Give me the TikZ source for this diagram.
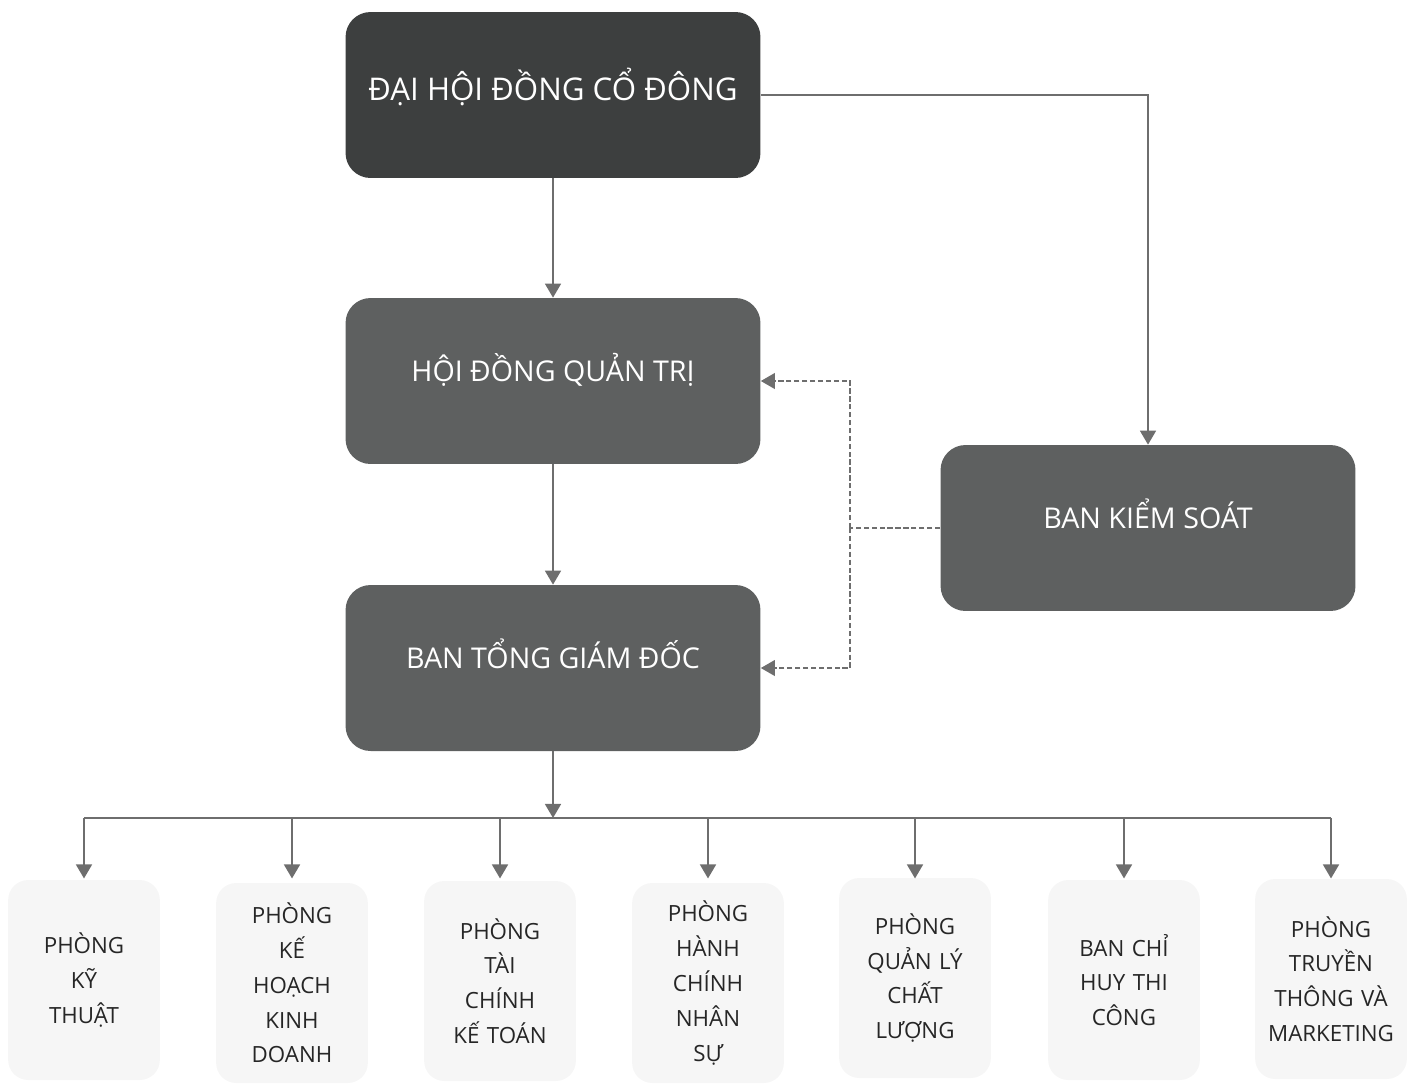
\documentclass[tikz,border=0pt]{standalone}
\usepackage{fontspec}
\setmainfont{Open Sans}
\usetikzlibrary{arrows.meta}
\definecolor{darkbox}{HTML}{3D3F3F}
\definecolor{midbox}{HTML}{5E6060}
\definecolor{paleBox}{HTML}{F6F6F6}
\definecolor{linegray}{HTML}{6E6E6E}
\tikzset{
  topbox/.style={rounded corners=0.5cm, fill=darkbox, text=white,
    minimum width=8.3cm, minimum height=3.32cm, text height=0.7cm, text depth=0.47cm,
    font=\fontsize{17.8}{21}\selectfont},
  midbox/.style={rounded corners=0.5cm, fill=midbox, text=white,
    minimum width=8.3cm, minimum height=3.32cm, text height=0.45cm, text depth=0.45cm,
    font=\fontsize{16.3}{19}\selectfont},
  deptbox/.style={rounded corners=0.4cm, fill=paleBox, text=black!85,
    minimum width=3cm, minimum height=4cm, text width=2.8cm, align=center,
    font=\fontsize{12.7}{19.8}\selectfont},
  link/.style={draw=linegray, line width=1.3pt,
    -{Triangle[width=9pt,length=8pt]}},
  dashlink/.style={draw=linegray, line width=0.8pt, dash pattern=on 3pt off 1.5pt}
}
\begin{document}
\begin{tikzpicture}[x=0.02cm,y=-0.02cm]
      \useasboundingbox (0,0) rectangle (1415,1089);
      \draw
        (553,95) node[topbox] (dh){ĐẠI HỘI ĐỒNG CỔ ĐÔNG}
        (553,381) node[midbox] (hdqt){HỘI ĐỒNG QUẢN TRỊ}
        (553,668) node[midbox] (btgd){BAN TỔNG GIÁM ĐỐC}
        (1148,528) node[midbox] (bks){BAN KIỂM SOÁT};
      \draw
        (84,980) node[deptbox] (p1){PHÒNG\\KỸ\\THUẬT}
        (292,983) node[deptbox] (p2){PHÒNG\\KẾ\\HOẠCH\\KINH\\DOANH}
        (500,981) node[deptbox] (p3){PHÒNG\\TÀI\\CHÍNH\\KẾ TOÁN}
        (708,983) node[deptbox] (p4){PHÒNG\\HÀNH\\CHÍNH\\NHÂN\\SỰ}
        (915,978) node[deptbox] (p5){PHÒNG\\QUẢN LÝ\\CHẤT\\LƯỢNG}
        (1124,980) node[deptbox] (p6){BAN CHỈ\\HUY THI\\CÔNG}
        (1331,979) node[deptbox] (p7){PHÒNG\\TRUYỀN\\THÔNG VÀ\\MARKETING};
      \coordinate (bus) at (553,818);
      \coordinate (dj) at (850,528);
      \begin{scope}[link]
        \draw (dh) to (hdqt);
        \draw (hdqt) to (btgd);
        \draw (dh.east) -| (bks.north);
        \draw (btgd) to (bus);
      \end{scope}
      \draw[draw=linegray, line width=1.3pt] (p1 |- bus) -- (p7 |- bus);
      \begin{scope}[link, shorten >=2pt]
        \draw (p1 |- bus) to (p1.north |- 0,882);
        \draw (p2 |- bus) to (p2.north |- 0,882);
        \draw (p3 |- bus) to (p3.north |- 0,882);
        \draw (p4 |- bus) to (p4.north |- 0,882);
        \draw (p5 |- bus) to (p5.north |- 0,882);
        \draw (p6 |- bus) to (p6.north |- 0,882);
        \draw (p7 |- bus) to (p7.north |- 0,882);
      \end{scope}
      \begin{scope}[dashlink]
        \draw (bks.west) -- (dj);
        \draw[-{Triangle[width=9pt,length=8pt]}] (dj) |- (hdqt.east);
        \draw[-{Triangle[width=9pt,length=8pt]}] (dj) |- (btgd.east);
      \end{scope}
    \end{tikzpicture}
\end{document}
